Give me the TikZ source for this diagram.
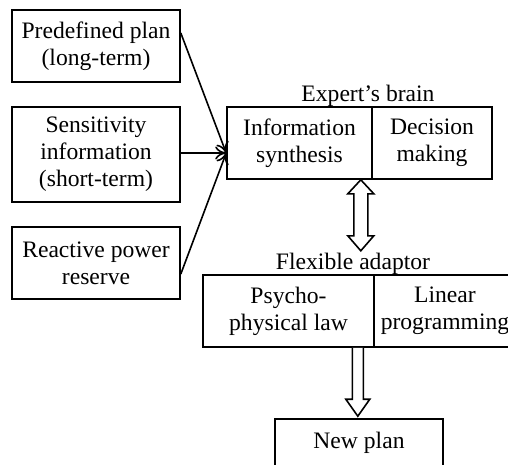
\documentclass[tikz,border=0pt]{standalone}
\usepackage{fontspec}
\setmainfont{Liberation Serif}
\usetikzlibrary{arrows.meta,calc}
\begin{document}
\begin{tikzpicture}[x=1pt,y=-1pt,
  txt/.style={font={\fontsize{23.6}{27}\selectfont}},
  box/.style={txt, draw, line width=1.6pt, rectangle, align=center, inner sep=0pt},
  lbl/.style={txt, inner sep=0pt},
  arr/.style={line width=1.6pt, -{To[length=11pt,width=13pt]}},
  fat/.style={line width=1.6pt, fill=white, line join=miter}]
\useasboundingbox (0,0) rectangle (508,464);
\clip (0,0) rectangle (508,464);
% inputs
\node[box, minimum width=168pt, minimum height=72pt] (plan) at (96,46) {Predefined plan\\(long-term)};
\node[box, minimum width=168pt, minimum height=95pt] (sens) at (96,154.5) {Sensitivity\\information\\(short-term)};
\node[box, minimum width=168pt, minimum height=72pt] (react) at (96,263) {Reactive power\\reserve};
% expert's brain
\node[box, minimum width=145pt, minimum height=72pt] (info) at (299.5,143) {Information\\synthesis};
\node[box, minimum width=120pt, minimum height=72pt] (dec) at (432,143) {Decision\\making};
\node[lbl, anchor=south] (expert) at (368,107) {Expert’s brain};
% flexible adaptor
\node[box, minimum width=171pt, minimum height=72pt] (psy) at (288.5,311) {Psycho-\\physical law};
\node[box, minimum width=142pt, minimum height=72pt] (lin) at (445,311) {Linear\\programming};
\node[lbl, anchor=south] (flex) at (353,275) {Flexible adaptor};
% new plan
\node[box, minimum width=168pt, minimum height=48pt] (new) at (359,443) {New plan};
% input arrows
\coordinate (hub) at ([yshift=-10pt]info.west);
\draw[arr] ([yshift=13pt]plan.east) -- (hub);
\draw[arr] (sens.east |- hub) -- (hub);
\draw[arr] ([yshift=-11pt]react.east) -- (hub);
% double arrow
\coordinate (dtop) at ($(info.south east)+(-12,0)$);
\coordinate (dbot) at ($(dtop)+(0,71)$);
\draw[fat] (dtop) -- ($(dtop)+(13,14)$) -- ($(dtop)+(7,14)$) -- ($(dbot)+(7,-15)$) -- ($(dbot)+(13,-15)$) -- (dbot)
  -- ($(dbot)+(-13,-15)$) -- ($(dbot)+(-7,-15)$) -- ($(dtop)+(-7,14)$) -- ($(dtop)+(-13,14)$) -- cycle;
% down arrow
\coordinate (atop) at ($(psy.south east)+(-17,0)$);
\coordinate (abot) at ($(atop |- new.north)+(0,-2)$);
\draw[fat] ($(atop)+(-5.5,0)$) -- ($(abot)+(-5.5,-17)$) -- ($(abot)+(-12,-17)$) -- (abot)
  -- ($(abot)+(12,-17)$) -- ($(abot)+(5.5,-17)$) -- ($(atop)+(5.5,0)$);
\end{tikzpicture}
\end{document}
